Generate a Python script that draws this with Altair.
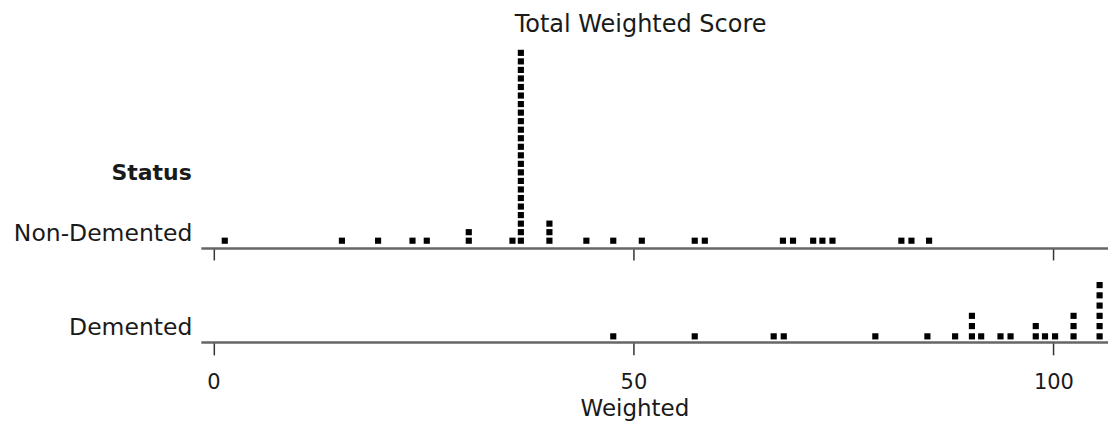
import altair as alt
import pandas as pd

# Non-Demented: distinct scores and how many cases share each score
nd_scores = [1.35, 15.3, 19.6, 23.7, 25.4, 30.4, 35.6, 36.6, 40.0, 44.4, 47.6, 51.0,
             57.3, 58.5, 67.8, 69.0, 71.4, 72.5, 73.7, 81.9, 83.1, 85.2]
nd_counts = [1, 1, 1, 1, 1, 2, 1, 23, 3, 1, 1, 1,
             1, 1, 1, 1, 1, 1, 1, 1, 1, 1]

# Demented
dm_scores = [47.6, 57.3, 66.7, 67.9, 78.8, 85.0, 88.3, 90.3, 91.4, 93.7, 94.9,
             97.9, 99.0, 100.2, 102.4, 105.5]
dm_counts = [1, 1, 1, 1, 1, 1, 1, 3, 1, 1, 1,
             2, 1, 1, 3, 6]

tick_values = [0, 50, 100]
row_labels = ["Non-Demented", "Demented"]


def dots(scores, counts):
    rows = []
    for s, c in zip(scores, counts):
        for k in range(c):
            rows.append({"Weighted": s, "level": k})
    return pd.DataFrame(rows)


FONT = "DejaVu Sans"
TXT = "#1a1a1a"
XDOM = [-1.5, 106.5]
W = 908

xscale = alt.Scale(domain=XDOM, nice=False, zero=False)

top_axis = alt.Axis(values=tick_values, labels=False, title=None, grid=False,
                    domainColor="#666", domainWidth=2.5, tickColor="#333",
                    tickWidth=1.5, tickSize=12)

bottom_axis = alt.Axis(values=tick_values, grid=False, domainColor="#666",
                       domainWidth=2.5, tickColor="#333", tickWidth=1.5,
                       tickSize=13, labelFont=FONT, labelFontSize=21,
                       labelColor=TXT, labelPadding=17, title="Weighted",
                       titleFont=FONT, titleFontSize=23, titleFontWeight="normal",
                       titleColor=TXT, titleBaseline="alphabetic", titleY=74,
                       titleX=434)

top_points = alt.Chart(dots(nd_scores, nd_counts)).mark_square(
    size=38, color="black", opacity=1
).encode(
    x=alt.X("Weighted:Q", scale=xscale, axis=top_axis),
    y=alt.Y("level:Q", scale=alt.Scale(domain=[-0.85, 22.9], nice=False, zero=False),
            axis=alt.Axis(title=row_labels[0], titleAngle=0, titleAlign="right",
                          titleBaseline="alphabetic", titleX=-9, titleY=196,
                          titleFont=FONT, titleFontSize=23.5, titleFontWeight="normal",
                          titleColor=TXT, labels=False, ticks=False, domain=False,
                          grid=False)),
)

status = alt.Chart(pd.DataFrame({"t": ["Status"]})).mark_text(
    align="right", baseline="alphabetic", font=FONT, fontSize=22,
    fontWeight="bold", color=TXT
).encode(text="t:N", x=alt.value(-9), y=alt.value(135))

top = alt.layer(top_points, status).properties(width=W, height=203)

bottom = alt.Chart(dots(dm_scores, dm_counts)).mark_square(
    size=38, color="black", opacity=1
).encode(
    x=alt.X("Weighted:Q", scale=xscale, axis=bottom_axis),
    y=alt.Y("level:Q", scale=alt.Scale(domain=[-0.54, 5.6], nice=False, zero=False),
            axis=alt.Axis(title=row_labels[1], titleAngle=0, titleAlign="right",
                          titleBaseline="alphabetic", titleX=-9, titleY=56,
                          titleFont=FONT, titleFontSize=23.5, titleFontWeight="normal",
                          titleColor=TXT, labels=False, ticks=False, domain=False,
                          grid=False)),
).properties(width=W, height=63)

chart = alt.vconcat(top, bottom, spacing=31, bounds="flush").resolve_scale(
    y="independent"
).properties(
    title=alt.TitleParams("Total Weighted Score", font=FONT, fontSize=24,
                          fontWeight="normal", color=TXT, anchor="middle",
                          dx=80, baseline="alphabetic", offset=-11),
    padding={"left": 5, "top": 5, "right": 0, "bottom": 0},
).configure_view(stroke=None)

chart.save("out.html", embed_options={"renderer": "svg", "actions": False})
